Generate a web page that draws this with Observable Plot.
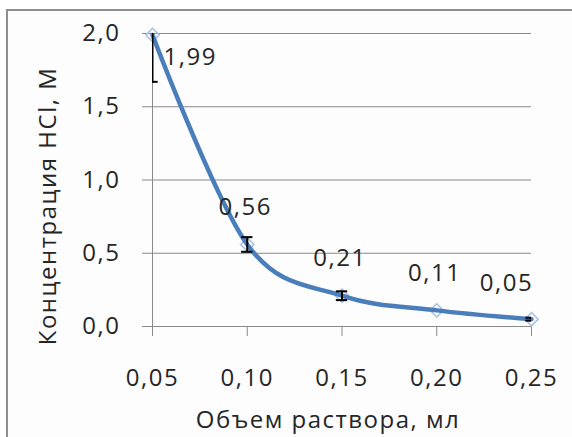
<!DOCTYPE html>
<html><head><meta charset="utf-8">
<script src="https://cdn.jsdelivr.net/npm/d3@7"></script>
<script src="https://cdn.jsdelivr.net/npm/@observablehq/plot@0.6"></script>
<style>
body{margin:0;background:#fff;}
#wrap{position:relative;width:572px;height:437px;overflow:hidden;}
#border{position:absolute;left:6px;top:9px;width:700px;height:600px;border-left:2px solid #8f8f8f;border-top:2px solid #8f8f8f;background:#fdfdfd;}
#chart{position:absolute;left:0;top:0;}
svg text{letter-spacing:1.5px;}
</style></head><body>
<div id="wrap"><div id="border"></div><div id="chart"></div></div>
<script>
const volumes = [0.05, 0.10, 0.15, 0.20, 0.25];
const concentrations = [1.99, 0.56, 0.21, 0.11, 0.05];
const errors = [0.32, 0.05, 0.03, 0, 0.01];
const labels = ["1,99", "0,56", "0,21", "0,11", "0,05"];
const xTicks = [0.05, 0.10, 0.15, 0.20, 0.25];
const yTicks = [0, 0.5, 1.0, 1.5, 2.0];
const xTitle = "Объем раствора, мл";
const yTitle = "Концентрация HCl, М";

const data = volumes.map((x, i) => ({x, y: concentrations[i], e: errors[i], label: labels[i]}));
const bars = data.filter(d => d.e > 0);
const comma = (d, n) => d.toFixed(n).replace(".", ",");
const cap = 0.003;
const grid = "#8a8a8a";
const txt = "#262626";

const plot = Plot.plot({
  width: 572, height: 437,
  marginLeft: 152, marginRight: 41, marginTop: 33, marginBottom: 111,
  style: {background: "transparent", fontFamily: "'Open Sans', sans-serif", fontSize: "24px", color: txt},
  x: {domain: [0.05, 0.25]},
  y: {domain: [0, 2]},
  marks: [
    Plot.ruleY(yTicks, {stroke: grid, strokeWidth: 1}),
    Plot.ruleX([0.05], {y1: 0, y2: 2, stroke: grid, strokeWidth: 1}),
    Plot.axisY(yTicks, {tickSize: 10, tickPadding: 22, tickFormat: d => comma(d, 1), stroke: grid, label: null, fontSize: 24}),
    Plot.axisX(xTicks, {tickSize: 10, tickPadding: 32, tickFormat: d => comma(d, 2), stroke: grid, label: null, fontSize: 24}),
    Plot.dot(data, {x: "x", y: "y", symbol: "diamond2", r: 6, stroke: "#a7bfe0", strokeWidth: 1.5, fill: "none"}),
    Plot.line(data, {x: "x", y: "y", curve: "cardinal", tension: 0, stroke: "#4a7ebb", strokeWidth: 4.5}),
    Plot.ruleX(bars, {x: "x", y1: d => d.y - d.e, y2: d => d.y + d.e, stroke: "#000", strokeWidth: 2, clip: true}),
    Plot.ruleY(bars, {y: d => d.y - d.e, x1: d => d.x - cap, x2: d => d.x + cap, stroke: "#000", strokeWidth: 2, clip: true}),
    Plot.ruleY(bars, {y: d => d.y + d.e, x1: d => d.x - cap, x2: d => d.x + cap, stroke: "#000", strokeWidth: 2, clip: true}),
    Plot.text(data.slice(0, 1), {x: "x", y: "y", text: "label", textAnchor: "start", dx: 11, dy: 22, fontSize: 24, fill: txt}),
    Plot.text(data.slice(1, 4), {x: "x", y: "y", text: "label", dx: -2, dy: -37, fontSize: 24, fill: txt}),
    Plot.text(data.slice(4), {x: "x", y: "y", text: "label", dx: -25, dy: -36, fontSize: 24, fill: txt}),
    Plot.text([xTitle], {text: d => d, frameAnchor: "bottom", textAnchor: "middle", dx: -14, dy: 94, lineAnchor: "middle", fontSize: 24, fill: txt}),
    Plot.text([yTitle], {text: d => d, frameAnchor: "left", textAnchor: "middle", rotate: -90, dx: -104, dy: 26, lineAnchor: "middle", fontSize: 24, fill: txt})
  ]
});
document.getElementById("chart").appendChild(plot);
</script>
</body></html>
